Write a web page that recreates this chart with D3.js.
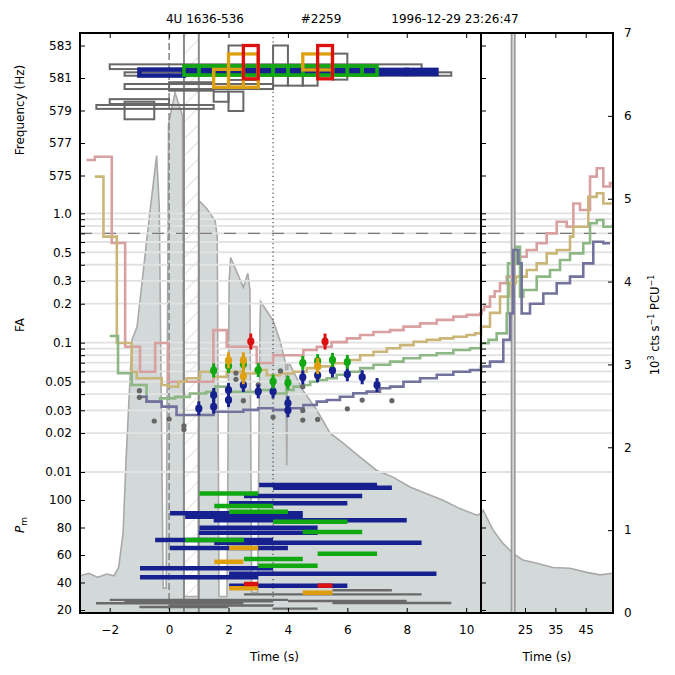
<!DOCTYPE html>
<html>
<head>
<meta charset="utf-8">
<script src="https://cdn.jsdelivr.net/npm/d3@7"></script>
<style>
  body { margin: 0; background: #fff; }
  text { font-family: "DejaVu Sans", sans-serif; }
</style>
</head>
<body>
<div id="chart"></div>
<script>
// ---- data ----
// light curve: [time s, 10^3 cts/s/PCU]
const lightCurve = [
  [-3.0,0.45],[-2.7,0.48],[-2.4,0.43],[-2.1,0.47],[-1.85,0.45],[-1.7,0.55],[-1.55,0.96],
  [-1.45,1.85],[-1.25,3.3],[-1.08,3.45],[-0.64,4.86],[-0.42,5.52],[-0.33,4.9],[-0.2,0.3],
  [-0.1,0.3],[-0.02,5.9],[0.2,6.28],[0.45,6.0],[0.5,0.2],[0.98,0.2],[1.0,4.98],[1.27,4.88],
  [1.55,4.73],[1.62,4.55],[1.68,0.2],[1.95,0.2],[2.02,4.0],[2.07,4.29],[2.5,3.93],[2.65,4.1],
  [2.72,3.9],[2.78,0.25],[2.98,0.25],[3.06,3.5],[3.08,3.76],[3.5,3.53],[3.73,3.29],[3.93,3.0],
  [3.96,1.78],[3.99,3.0],[4.07,3.0],[4.5,2.69],[4.97,2.45],[5.42,2.17],[5.86,2.05],[6.43,1.88],
  [6.99,1.72],[7.54,1.64],[8.11,1.52],[8.67,1.44],[9.22,1.36],[9.79,1.26],[10.36,1.18],
  [10.5,1.2],[11.2,1.24],[14.5,1.0],[17.75,0.84],[21,0.72],[24.3,0.64],[28.9,0.6],
  [34.2,0.55],[39.8,0.54],[45.4,0.49],[49.7,0.46],[54,0.48]
];

// FA step curves: [time s, FA]
const faPink = [
  [-2.78,2.58],[-2.5,2.74],[-1.93,0.589],[-1.48,0.093],[-0.98,0.0596],[-0.47,0.0993],
  [-0.03,0.0499],[1.49,0.125],[1.94,0.093],[2.95,0.0696],[3.5,0.080],[4.52,0.0877],
  [4.97,0.093],[5.47,0.101],[5.98,0.108],[6.43,0.1146],[6.88,0.121],[7.44,0.125],
  [7.89,0.133],[8.45,0.141],[9.01,0.150],[9.57,0.159],[10.02,0.164],[10.47,0.168],
  [10.73,0.179],[11.5,0.19],[13.47,0.227],[15,0.25],[16.76,0.288],[18.97,0.324],
  [21.15,0.41],[23.35,0.462],[25.56,0.52],[28.86,0.586],[32.15,0.70],[35.45,0.861],
  [38.75,0.788],[40.93,1.19],[43.13,1.06],[46.43,1.92],[48.64,2.23],[50.81,1.61],
  [53.0,1.71],[54,1.43]
];
const faTan = [
  [-2.5,1.92],[-2.21,0.66],[-1.76,0.0993],[-1.26,0.0596],[-1.09,0.053],[-0.25,0.047],
  [-0.03,0.0457],[0.31,0.0499],[0.59,0.053],[1.04,0.0596],[1.49,0.0544],[1.94,0.0596],
  [2.5,0.0577],[2.9,0.0614],[3.29,0.056],[3.73,0.0577],[4.17,0.0596],[4.63,0.0635],
  [5.08,0.0656],[5.53,0.0693],[5.98,0.0735],[6.43,0.080],[6.88,0.085],[7.33,0.0904],
  [7.78,0.0957],[8.23,0.1016],[8.67,0.105],[9.12,0.108],[9.57,0.111],[10.02,0.1146],
  [10.3,0.118],[10.5,0.133],[13.47,0.17],[16.76,0.227],[19.8,0.288],[22.0,0.324],
  [25.56,0.364],[28.86,0.41],[32.15,0.49],[35.45,0.52],[39.83,0.66],[40.93,0.788],
  [44.2,0.788],[45.87,1.34],[48.64,1.43],[50.81,1.19],[54,1.19]
];
const faGreen = [
  [-2.0,0.1125],[-1.72,0.058],[-1.26,0.047],[-0.76,0.035],[-0.3,0.0371],[0.2,0.0381],
  [0.7,0.0405],[1.25,0.0416],[1.55,0.0457],[1.94,0.0416],[3.06,0.043],[3.5,0.0405],
  [3.96,0.043],[4.19,0.0457],[4.52,0.047],[4.75,0.0499],[4.97,0.0514],[5.31,0.053],
  [5.64,0.0565],[5.98,0.0596],[6.43,0.0635],[6.88,0.0674],[7.44,0.0713],[7.89,0.0757],
  [8.45,0.080],[9.01,0.0827],[9.57,0.0877],[10.13,0.0904],[10.5,0.0989],[13,0.105],
  [15.67,0.118],[18.97,0.168],[19.4,0.41],[22.2,0.552],[23.35,0.227],[24.44,0.255],
  [28.86,0.324],[33.24,0.364],[36.54,0.435],[39.83,0.49],[44.2,0.586],[46.43,0.837],
  [48.64,0.888],[50.81,0.788],[54,0.837]
];
const faSlate = [
  [-0.98,0.0382],[-0.76,0.035],[-0.25,0.032],[0.25,0.0276],[0.82,0.0276],[1.5,0.0292],
  [2.5,0.0302],[3.0,0.0311],[3.5,0.0302],[3.96,0.0311],[4.52,0.033],[4.97,0.035],
  [5.31,0.036],[5.75,0.0382],[6.2,0.0406],[6.65,0.0418],[7.1,0.0444],[7.44,0.0457],
  [7.89,0.0499],[8.45,0.053],[9.01,0.0565],[9.57,0.0596],[10.13,0.0615],[10.5,0.0656],
  [13.47,0.0713],[17.85,0.105],[20.06,0.168],[21.15,0.52],[22.8,0.41],[23.9,0.168],
  [26.65,0.20],[31.03,0.24],[35.45,0.288],[39.83,0.324],[44.2,0.41],[47.5,0.603],
  [50.81,0.586],[53,0.586]
];

// detections in the FA panel: [time s, FA]
const ptsBlue = [[1.0,0.031],[1.5,0.0394],[1.5,0.032],[2.0,0.043],[2.0,0.036],[2.5,0.047],
  [3.0,0.042],[3.5,0.042],[4.0,0.034],[4.0,0.030],[4.5,0.054],[5.0,0.056],[5.5,0.061],
  [6.0,0.057],[6.5,0.054],[7.0,0.047]];
const ptsGreen = [[1.5,0.061],[2.0,0.066],[2.5,0.068],[3.0,0.0614],[3.5,0.050],[4.0,0.049],
  [4.5,0.0697],[5.0,0.072],[5.5,0.0735],[6.0,0.071]];
const ptsOrange = [[2.0,0.073],[2.5,0.073],[2.5,0.055],[5.0,0.066]];
const ptsRed = [[2.75,0.102],[5.25,0.102]];
const ptsGray = [[-1.0,0.0425],[-1.0,0.0378],[-0.5,0.0248],[0.0,0.0257],[0.5,0.0227],
  [0.5,0.0213],[2.25,0.0582],[2.25,0.0521],[2.5,0.0356],[3.0,0.0471],[3.5,0.0266],
  [3.75,0.0604],[4.5,0.0457],[4.5,0.0299],[4.5,0.0252],[5.0,0.0255],[6.0,0.0308],
  [6.5,0.036],[7.5,0.0356]];

// frequency boxes: [t start, t end, f low, f high] in Hz
const boxGray = [[-2.0,8.5,581.55,581.84],[-1.5,9.5,581.14,581.35],[-1.5,3.5,580.32,580.63],
  [0.0,1.5,580.22,580.74],[2.0,3.0,580.88,583.0],[3.5,4.0,580.53,583.0],
  [4.0,4.5,580.53,581.55],[4.5,5.0,580.53,581.55],[5.5,6.0,580.9,582.5],
  [-2.45,1.5,579.1,579.34],[-2.0,0.0,579.4,579.7],[-1.5,-0.5,578.46,579.54],
  [1.5,2.0,579.54,580.16],[2.0,2.5,578.97,580.16]];
const boxBlue = [[-1.0,0.5,581.15,581.52],[0.5,1.0,581.3,581.52],[1.0,1.5,581.3,581.52],
  [1.5,2.0,581.3,581.52],[2.0,2.5,581.3,581.52],[2.5,3.0,581.3,581.52],[3.0,3.5,581.3,581.52],
  [3.5,4.0,581.3,581.52],[4.0,4.5,581.3,581.52],[4.5,5.0,581.3,581.52],[5.0,5.5,581.3,581.52],
  [5.5,6.0,581.3,581.52],[6.0,6.5,581.3,581.52],[6.5,7.0,581.3,581.52],[7.0,8.0,581.25,581.5],
  [8.0,9.0,581.25,581.5]];
const boxGreen = [[0.5,1.0,581.18,581.74],[1.0,1.5,581.18,581.74],[1.5,2.0,581.18,581.74],
  [2.0,2.5,581.18,581.74],[2.5,3.0,581.18,581.74],[3.0,3.5,581.18,581.74],
  [3.5,4.0,581.18,581.74],[4.0,4.5,581.18,581.74],[4.5,5.0,581.18,581.74],
  [5.0,5.5,581.18,581.74],[5.5,6.0,581.18,581.74],[6.0,6.5,581.18,581.74],
  [6.5,7.0,581.18,581.74]];
const boxOrange = [[1.5,2.5,580.43,581.53],[2.0,3.0,580.43,582.48],[4.5,5.5,581.5,582.48]];
const boxRed = [[2.5,3.0,580.95,583.0],[5.0,5.5,580.95,583.0]];

// P_m bars: [t start, t end, P_m]
const barBlue = [[3.03,7.0,110.9],[3.5,7.5,109],[2.52,6.5,102.9],[2.02,6.0,97.6],[0.03,4.5,90.3],
  [0.54,4.5,87.9],[1.5,8.0,85.2],[1.02,5.0,79.9],[1.0,5.0,76.2],[-0.47,3.5,70.9],
  [1.52,8.5,68.9],[0.03,4.0,65.1],[-0.98,3.5,50.3],[2.02,9.0,46.4],[-0.98,3.0,43.8],
  [2.02,6.0,37.7]];
const barGreen = [[1.02,3.0,104.8],[1.52,3.5,95.6],[2.02,4.0,91.5],[3.5,6.0,84.2],
  [4.5,6.5,76.7],[0.54,2.52,70.9],[5.0,7.0,61],[2.52,4.5,57.1],[3.0,5.0,52.2]];
const barOrange = [[2.02,3.0,65.1],[1.52,2.5,55.1],[2.02,3.0,35.8],[4.5,5.5,32.6]];
const barRed = [[2.52,3.0,38.9],[5.0,5.5,37.7]];
const barGray = [[5.5,7.5,34.4],[2.52,8.5,31.4],[-2.0,4.0,27.4],[-1.5,3.5,26.3],
  [-2.46,2.5,24.9],[4.0,8.0,26.5],[5.5,9.5,25.1],[0.0,3.5,23.3],[3.5,5.0,21],[-1.0,2.0,22.2]];

// axes
const freqTicks = [575, 577, 579, 581, 583];
const faGrid = [1, 0.9, 0.8, 0.7, 0.6, 0.5, 0.4, 0.3, 0.2, 0.1, 0.09, 0.08, 0.07, 0.06,
  0.05, 0.04, 0.03, 0.02, 0.01];
const faLabels = { 1: "1.0", 0.5: "0.5", 0.3: "0.3", 0.2: "0.2", 0.1: "0.1", 0.05: "0.05",
  0.03: "0.03", 0.02: "0.02", 0.01: "0.01" };
const pmTicks = [20, 40, 60, 80, 100];
const timeTicksL = [-2, 0, 2, 4, 6, 8, 10];
const timeTicksR = [25, 35, 45];
const countTicks = [0, 1, 2, 3, 4, 5, 6, 7];
const markTimes = { dashed: 0, hatchStart: 0.5, hatchEnd: 1.0, dotted: 3.5, right: 21.1 };
const faThreshold = 0.7;

// ---- layout ----
const W = 675, H = 675;
const pLeft = 80, pMid = 481, pRight = 613, pTop = 33, pBottom = 613;
const col = { blue: "#16208f", green: "#12a812", orange: "#dfa00f", red: "#dd1010",
  gray: "#666666", pink: "#d8a0a0", tan: "#cbb67a", sage: "#8db885", slate: "#72729c" };

const svg = d3.select("#chart").append("svg").attr("width", W).attr("height", H);

const defs = svg.append("defs");
defs.append("clipPath").attr("id", "plotClip")
  .append("rect").attr("x", pLeft).attr("y", pTop).attr("width", pRight - pLeft).attr("height", pBottom - pTop);
const hatch = defs.append("pattern").attr("id", "hatch").attr("patternUnits", "userSpaceOnUse")
  .attr("width", 12).attr("height", 12).attr("patternTransform", "rotate(45)");
hatch.append("line").attr("x1", 0).attr("y1", 0).attr("x2", 0).attr("y2", 12)
  .attr("stroke", "#b8b8b8").attr("stroke-width", 0.8);

const xL = d3.scaleLinear().domain([-3, 10.5]).range([pLeft, pMid]);
const xR = d3.scaleLinear().domain([10.5, 54]).range([pMid, pRight]);
const xT = t => (t <= 10.5 ? xL(t) : xR(t));
const yFreq = d3.scaleLinear().domain([575, 583]).range([175.5, 45.5]);
const yFA = d3.scaleLog().domain([1, 0.01]).range([213.3, 472]);
const yPm = d3.scaleLinear().domain([20, 100]).range([610, 500]);
const yCount = d3.scaleLinear().domain([0, 7]).range([pBottom, pTop]);

const plot = svg.append("g").attr("clip-path", "url(#plotClip)");

// light curve
const area = d3.area().x(d => xT(d[0])).y0(yCount(0)).y1(d => yCount(d[1]));
const lcLine = d3.line().x(d => xT(d[0])).y(d => yCount(d[1]));
plot.append("path").attr("d", area(lightCurve)).attr("fill", "#d3d8d8");
plot.append("path").attr("d", lcLine(lightCurve)).attr("fill", "none")
  .attr("stroke", "#a9a9a9").attr("stroke-width", 1.6);

// hatched span
plot.append("rect").attr("x", xL(markTimes.hatchStart)).attr("y", pTop)
  .attr("width", xL(markTimes.hatchEnd) - xL(markTimes.hatchStart)).attr("height", pBottom - pTop)
  .attr("fill", "url(#hatch)");

// horizontal grid
plot.selectAll(".grid").data(faGrid).enter().append("line").attr("class", "grid")
  .attr("x1", pLeft).attr("x2", pRight).attr("y1", d => yFA(d)).attr("y2", d => yFA(d))
  .attr("stroke", "#e2e2e2").attr("stroke-width", 1.8);
plot.append("line").attr("x1", pLeft).attr("x2", pRight)
  .attr("y1", yFA(faThreshold)).attr("y2", yFA(faThreshold))
  .attr("stroke", "#7a7a7a").attr("stroke-width", 1.1).attr("stroke-dasharray", "12,12");

// vertical markers
function vline(x, stroke, width, dash) {
  plot.append("line").attr("x1", x).attr("x2", x).attr("y1", pTop).attr("y2", pBottom)
    .attr("stroke", stroke).attr("stroke-width", width).attr("stroke-dasharray", dash || null);
}
vline(xL(markTimes.dashed), "#8a8a8a", 1.6, "7,3");
vline(xL(markTimes.hatchStart), "#8a8a8a", 2);
vline(xL(markTimes.hatchEnd), "#8a8a8a", 2);
vline(xL(markTimes.dotted), "#222", 1, "1.2,3");
vline(xR(markTimes.right), "#9a9a9a", 5);
vline(xR(markTimes.right), "#e4e4e4", 1.4);

// FA step curves
const step = d3.line().curve(d3.curveStepAfter).x(d => xT(d[0])).y(d => yFA(d[1]));
[[faPink, col.pink], [faTan, col.tan], [faGreen, col.sage], [faSlate, col.slate]]
  .forEach(([data, c]) => {
    plot.append("path").attr("d", step(data)).attr("fill", "none")
      .attr("stroke", c).attr("stroke-width", 2.6);
  });

// gray FA dots
plot.selectAll(".gdot").data(ptsGray).enter().append("circle").attr("class", "gdot")
  .attr("cx", d => xL(d[0])).attr("cy", d => yFA(d[1])).attr("r", 2.6).attr("fill", "#666");

// detections with error bars
function drawPoints(data, c, err) {
  const g = plot.append("g");
  g.selectAll("line").data(data).enter().append("line")
    .attr("x1", d => xL(d[0])).attr("x2", d => xL(d[0]))
    .attr("y1", d => yFA(d[1]) - err).attr("y2", d => yFA(d[1]) + err)
    .attr("stroke", c).attr("stroke-width", 3);
  g.selectAll("ellipse").data(data).enter().append("ellipse")
    .attr("cx", d => xL(d[0])).attr("cy", d => yFA(d[1])).attr("rx", 3.6).attr("ry", 4)
    .attr("fill", c);
}
drawPoints(ptsBlue, col.blue, 7);
drawPoints(ptsGreen, col.green, 7);
drawPoints(ptsOrange, col.orange, 8);
drawPoints(ptsRed, col.red, 8);

// P_m bars
function drawBars(data, c, w) {
  plot.append("g").selectAll("line").data(data).enter().append("line")
    .attr("x1", d => xL(d[0])).attr("x2", d => xL(d[1]))
    .attr("y1", d => yPm(d[2])).attr("y2", d => yPm(d[2]))
    .attr("stroke", c).attr("stroke-width", w);
}
drawBars(barGray, "#6a6a6a", 2.4);
drawBars(barBlue, col.blue, 4.5);
drawBars(barGreen, col.green, 4.5);
drawBars(barOrange, col.orange, 4.5);
drawBars(barRed, col.red, 4.5);

// frequency boxes
function drawBoxes(data, c, w) {
  plot.append("g").selectAll("rect").data(data).enter().append("rect")
    .attr("x", d => xL(d[0])).attr("width", d => xL(d[1]) - xL(d[0]))
    .attr("y", d => yFreq(d[3])).attr("height", d => yFreq(d[2]) - yFreq(d[3]))
    .attr("fill", "none").attr("stroke", c).attr("stroke-width", w);
}
drawBoxes(boxGray, "#676767", 2);
drawBoxes(boxBlue, col.blue, 4.5);
drawBoxes(boxGreen, col.green, 3.6);
drawBoxes(boxOrange, col.orange, 3.3);
drawBoxes(boxRed, col.red, 3.3);

// ---- axes ----
function styleAxis(g) {
  g.select(".domain").remove();
  g.selectAll("text").attr("font-family", "DejaVu Sans, sans-serif").attr("font-size", 12)
    .attr("fill", "#000");
  g.selectAll("line").attr("stroke", "#000").attr("stroke-width", 1);
}
svg.append("g").attr("transform", `translate(${pLeft},0)`)
  .call(d3.axisLeft(yFreq).tickValues(freqTicks).tickSize(-5).tickPadding(8)).call(styleAxis);
svg.append("g").attr("transform", `translate(${pLeft},0)`)
  .call(d3.axisLeft(yFA).tickValues(faGrid).tickSize(-5).tickPadding(8)
    .tickFormat(d => faLabels[d] || "")).call(styleAxis);
svg.append("g").attr("transform", `translate(${pLeft},0)`)
  .call(d3.axisLeft(yPm).tickValues(pmTicks).tickSize(-5).tickPadding(8)).call(styleAxis);

// right panel mirrors the left ticks
svg.append("g").attr("transform", `translate(${pMid},0)`)
  .call(d3.axisRight(yFreq).tickValues(freqTicks).tickSize(5).tickFormat("")).call(styleAxis);
svg.append("g").attr("transform", `translate(${pMid},0)`)
  .call(d3.axisRight(yFA).tickValues(faGrid).tickSize(5).tickFormat("")).call(styleAxis);
svg.append("g").attr("transform", `translate(${pMid},0)`)
  .call(d3.axisRight(yPm).tickValues(pmTicks).tickSize(5).tickFormat("")).call(styleAxis);

svg.append("g").attr("transform", `translate(0,${pBottom})`)
  .call(d3.axisBottom(xL).tickValues(timeTicksL).tickSize(-5).tickPadding(12)).call(styleAxis);
svg.append("g").attr("transform", `translate(0,${pBottom})`)
  .call(d3.axisBottom(xR).tickValues(timeTicksR).tickSize(-5).tickPadding(12)).call(styleAxis);
svg.append("g").attr("transform", `translate(0,${pTop})`)
  .call(d3.axisTop(xL).tickValues(timeTicksL).tickSize(-5).tickFormat("")).call(styleAxis);
svg.append("g").attr("transform", `translate(0,${pTop})`)
  .call(d3.axisTop(xR).tickValues(timeTicksR).tickSize(-5).tickFormat("")).call(styleAxis);
svg.append("g").attr("transform", `translate(${pRight},0)`)
  .call(d3.axisRight(yCount).tickValues(countTicks).tickSize(-5).tickPadding(11)
    .tickFormat(d3.format("d"))).call(styleAxis);

// spines
svg.append("rect").attr("x", pLeft).attr("y", pTop).attr("width", pMid - pLeft).attr("height", pBottom - pTop)
  .attr("fill", "none").attr("stroke", "#000").attr("stroke-width", 2);
svg.append("rect").attr("x", pMid).attr("y", pTop).attr("width", pRight - pMid).attr("height", pBottom - pTop)
  .attr("fill", "none").attr("stroke", "#000").attr("stroke-width", 2);

// ---- text ----
const title = svg.append("g").attr("font-size", 12);
title.append("text").attr("x", 205).attr("y", 23).attr("text-anchor", "middle").text("4U 1636-536");
title.append("text").attr("x", 321).attr("y", 23).attr("text-anchor", "middle").text("#2259");
title.append("text").attr("x", 455).attr("y", 23).attr("text-anchor", "middle").text("1996-12-29 23:26:47");

function yLabel(x, y) {
  return svg.append("text").attr("transform", `translate(${x},${y}) rotate(-90)`)
    .attr("text-anchor", "middle").attr("font-size", 12);
}
yLabel(24, 110).text("Frequency (Hz)");
yLabel(24, 325).text("FA");
const pm = yLabel(24, 525).attr("font-family", "DejaVu Serif, serif");
pm.append("tspan").attr("font-style", "italic").text("P");
pm.append("tspan").attr("font-size", 9).attr("dy", 3).text("m");

const rl = yLabel(659, 325).attr("font-size", 11.5);
rl.append("tspan").text("10");
rl.append("tspan").attr("font-size", 8).attr("dy", -5).text("3");
rl.append("tspan").attr("dy", 5).text(" cts s");
rl.append("tspan").attr("font-size", 8).attr("dy", -5).text("\u22121");
rl.append("tspan").attr("dy", 5).text(" PCU");
rl.append("tspan").attr("font-size", 8).attr("dy", -5).text("\u22121");

svg.append("text").attr("x", (pLeft + pMid) / 2 - 6).attr("y", 661).attr("text-anchor", "middle")
  .attr("font-size", 12).text("Time (s)");
svg.append("text").attr("x", (pMid + pRight) / 2).attr("y", 661).attr("text-anchor", "middle")
  .attr("font-size", 12).text("Time (s)");
</script>
</body>
</html>
